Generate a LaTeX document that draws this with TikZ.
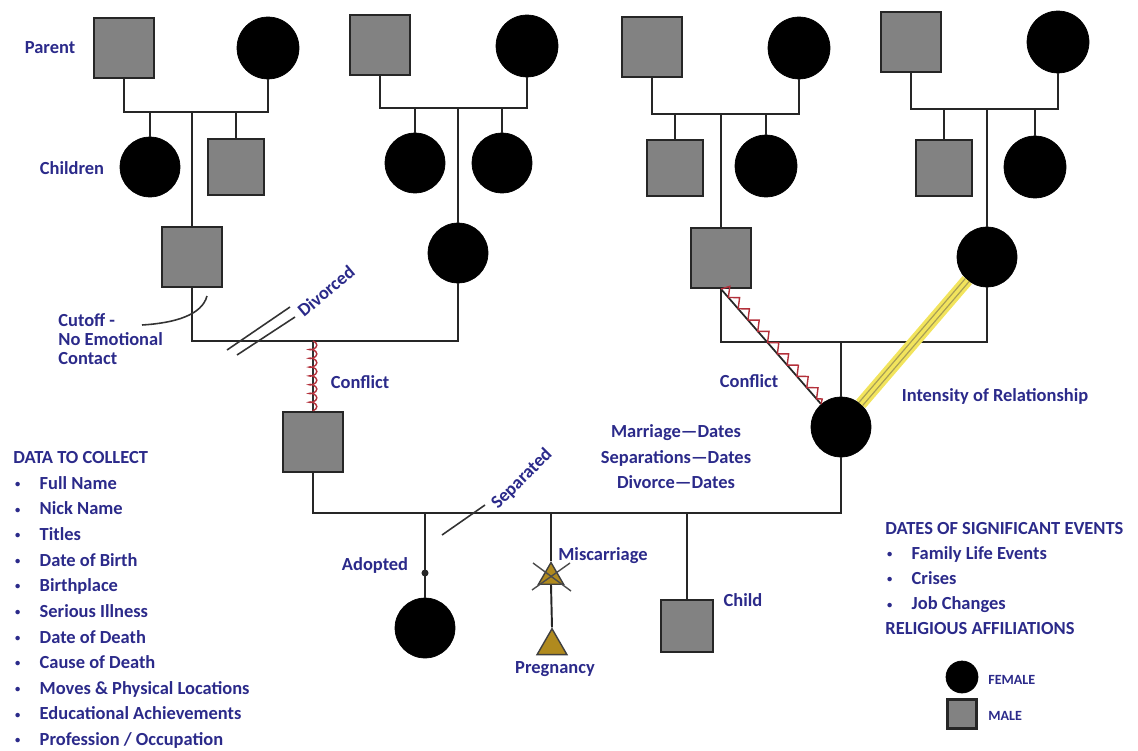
\documentclass[tikz,border=0pt]{standalone}
\usepackage{fontspec}
\setmainfont{Carlito}
\usetikzlibrary{shapes.geometric,decorations.pathmorphing}

\definecolor{labelblue}{HTML}{2B2A8A}
\definecolor{malegray}{HTML}{828282}
\definecolor{pregold}{HTML}{B08A1E}
\definecolor{bondyellow}{HTML}{F2E45C}
\definecolor{bondedge}{HTML}{A89E55}
\definecolor{conflictred}{HTML}{B3303A}

\newcommand{\gbullet}{\makebox[15pt][l]{\hspace{1pt}\raisebox{1pt}{\fontsize{6}{6}\selectfont\textbullet}}}

\tikzset{
	male/.style={rectangle, draw=black!85, fill=malegray, line width=1.2pt, minimum size=1.2cm, inner sep=0pt},
	female/.style={circle, draw=black, fill=black, minimum size=1.2cm, inner sep=0pt},
	pregnancy/.style={regular polygon, regular polygon sides=3, draw=black!75, fill=pregold, line width=0.8pt, inner sep=0pt},
	tag/.style={text=labelblue, inner sep=0pt, font=\bfseries\fontsize{10.5}{12}\selectfont},
	link/.style={line width=1.1pt, draw=black!85},
}

\begin{document}
\begin{tikzpicture}[x=0.02cm, y=-0.02cm]
	\useasboundingbox (0,0) rectangle (1138,750);

	%grandparents
\node[male] (pma) at (124,48) {};
\node[female, minimum size=1.24cm] (pfa) at (268,48) {};
\node[male] (pmb) at (380,45) {};
\node[female, minimum size=1.24cm] (pfb) at (527,46) {};
\node[male] (pmc) at (652,47) {};
\node[female, minimum size=1.24cm] (pfc) at (799,48) {};
\node[male] (pmd) at (911,42) {};
\node[female, minimum size=1.24cm] (pfd) at (1058,42) {};

\coordinate (ma) at (192,112);
\coordinate (mb) at (458,108);
\coordinate (mc) at (721,114);
\coordinate (md) at (987,109);

	%siblings
\node[female] (sa1) at (150,167) {};
\node[male, minimum size=1.12cm] (sa2) at (236,167) {};
\node[female] (sb1) at (415,163) {};
\node[female] (sb2) at (502,163) {};
\node[male, minimum size=1.12cm] (sc1) at (675,168) {};
\node[female, minimum size=1.24cm] (sc2) at (766,166) {};
\node[male, minimum size=1.12cm] (sd1) at (944,168) {};
\node[female, minimum size=1.24cm] (sd2) at (1035,167) {};

	%parents
\node[male] (fa) at (192,257) {};
\node[female] (mo) at (458,253) {};
\node[male] (fb) at (721,258) {};
\node[female] (mb2) at (987,257) {};

\coordinate (mleft) at (313,341);
\coordinate (mright) at (841,342);

	%couple
\node[male] (he) at (313,442) {};
\node[female] (she) at (841,427) {};
\coordinate (mlow) at (551,513);

	%their children
\node[female] (adopt) at (425,628) {};
\node[pregnancy, minimum size=0.58cm] (misc) at (551,577) {};
\node[pregnancy, minimum size=0.69cm] (preg) at (552,646) {};
\node[male, minimum size=1.04cm] (child) at (687,626) {};

	%family lines
\draw[link] (pma.south) |- (ma) -| (pfa.south);
\draw[link] (pmb.south) |- (mb) -| (pfb.south);
\draw[link] (pmc.south) |- (mc) -| (pfc.south);
\draw[link] (pmd.south) |- (md) -| (pfd.south);
\draw[link] (sa1.north) -- (sa1.north |- ma);
\draw[link] (sa2.north) -- (sa2.north |- ma);
\draw[link] (sb1.north) -- (sb1.north |- mb);
\draw[link] (sb2.north) -- (sb2.north |- mb);
\draw[link] (sc1.north) -- (sc1.north |- mc);
\draw[link] (sc2.north) -- (sc2.north |- mc);
\draw[link] (sd1.north) -- (sd1.north |- md);
\draw[link] (sd2.north) -- (sd2.north |- md);
\draw[link] (ma) -- (fa.north);
\draw[link] (mb) -- (mo.north);
\draw[link] (mc) -- (fb.north);
\draw[link] (md) -- (mb2.north);

\draw[link] (fa.south) |- (mleft) -| (mo.south);
\draw[link] (fb.south) |- (mright) -| (mb2.south);
\draw[link] (mright) -- (she.north);
\draw[link] (he.south) |- (mlow) -| (she.south);

\draw[link] (adopt.north) -- (adopt.north |- mlow);
\fill[black!85] (425,573) circle[radius=2pt];
\draw[link] (misc.north) -- (misc.north |- mlow);
\draw[link] (misc.south) -- (preg.north);
\draw[black!70, line width=0.8pt] (misc.center) ++(-19,13) -- ++(38,-27);
\draw[black!70, line width=0.8pt] (misc.center) ++(-18,-14) -- ++(38,28);
\draw[link] (child.north) -- (child.north |- mlow);

	%conflict, cutoff, divorce
\draw[black!80, line width=0.6pt] (mleft) -- (he.north);
\draw[conflictred, line width=0.8pt, decorate, decoration={coil, amplitude=2.2pt, segment length=5pt}] (mleft) -- (he.north);
\draw[black!85, line width=1pt] (fb.south) -- (she);
\draw[conflictred, line width=0.8pt, decorate, decoration={zigzag, amplitude=2.4pt, segment length=8.5pt, raise=2.4pt}] (fb.south) -- (she);

\draw[line width=7pt, bondyellow] (mb2) -- (she);
\draw[line width=3.4pt, bondedge] (mb2) -- (she);
\draw[line width=1.9pt, bondyellow] (mb2) -- (she);

\draw[black!80, line width=0.9pt] (142,325) .. controls (175,323) and (202,315) .. (207,296);
\draw[black!80, line width=0.9pt] (227,350) -- (290,307);
\draw[black!80, line width=0.9pt] (237,355) -- (295,317);
\draw[black!80, line width=0.9pt] (442,535) -- (485,505);

	%labels
\node[tag] (lparent) at (50,48) {Parent};
\node[tag] (lchildren) at (72,168) {Children};
\node[tag, anchor=north west, align=left, font=\bfseries\fontsize{10.5}{11}\selectfont] (lcutoff) at (58,313) {Cutoff -\\No Emotional\\Contact};
\node[tag, rotate=40] (ldivorced) at (326,291) {Divorced};
\node[tag] (lconflicta) at (360,382) {Conflict};
\node[tag] (lconflictb) at (749,381) {Conflict};
\node[tag] (lintensity) at (995,396) {Intensity of Relationship};
\node[tag, align=center, font=\bfseries\fontsize{10.5}{14.5}\selectfont] (ldates) at (676,457) {Marriage---Dates\\Separations---Dates\\Divorce---Dates};
\node[tag, rotate=45] (lseparated) at (522,479) {Separated};
\node[tag] (ladopted) at (375,565) {Adopted};
\node[tag] (lmisc) at (603,556) {Miscarriage};
\node[tag] (lpreg) at (555,669) {Pregnancy};
\node[tag] (lchild) at (743,600) {Child};

	%lists
\node[tag, anchor=north west, align=left, font=\bfseries\fontsize{10.5}{14.6}\selectfont] (collect) at (13,451) {DATA TO COLLECT\\
	\gbullet Full Name\\
	\gbullet Nick Name\\
	\gbullet Titles\\
	\gbullet Date of Birth\\
	\gbullet Birthplace\\
	\gbullet Serious Illness\\
	\gbullet Date of Death\\
	\gbullet Cause of Death\\
	\gbullet Moves \& Physical Locations\\
	\gbullet Educational Achievements\\
	\gbullet Profession / Occupation};

\node[tag, anchor=north west, align=left, font=\bfseries\fontsize{10.5}{14.3}\selectfont] (events) at (885,522) {DATES OF SIGNIFICANT EVENTS\\
	\gbullet Family Life Events\\
	\gbullet Crises\\
	\gbullet Job Changes\\
	RELIGIOUS AFFILIATIONS};

	%legend
\node[female, minimum size=0.64cm] (legf) at (962,677) {};
\node[male, minimum size=0.58cm] (legm) at (962,714) {};
\node[tag, anchor=west, font=\bfseries\fontsize{8}{9}\selectfont] (lfemale) at (988,680) {FEMALE};
\node[tag, anchor=west, font=\bfseries\fontsize{8}{9}\selectfont] (lmale) at (988,716) {MALE};

\end{tikzpicture}
\end{document}
